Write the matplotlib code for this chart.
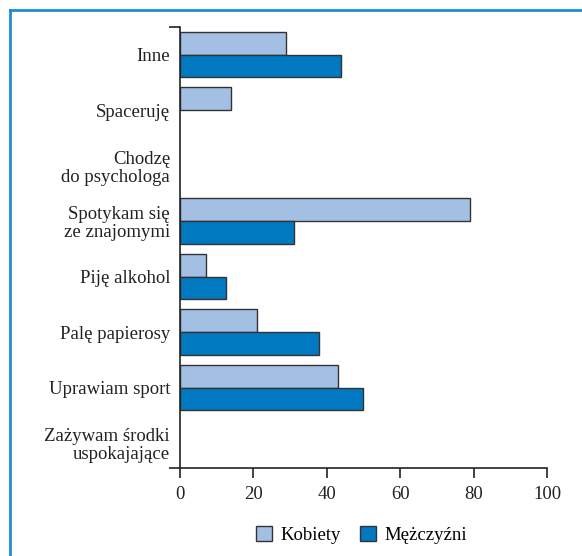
import matplotlib
matplotlib.use("Agg")
import matplotlib.pyplot as plt
from matplotlib.lines import Line2D
from matplotlib.patches import Patch
import numpy as np

categories = ["Inne", "Spaceruję", "Chodzę\ndo psychologa", "Spotykam się\nze znajomymi",
              "Piję alkohol", "Palę papierosy", "Uprawiam sport",
              "Zażywam środki\nuspokajające"]
kobiety = [29, 14, 0, 79, 7, 21, 43, 0]
mezczyzni = [44, 0, 0, 31, 12.5, 38, 50, 0]
series_names = ["Kobiety", "Mężczyźni"]

light = "#a3bfe3"
dark = "#0079c1"
edge = "#333333"
frame_blue = "#1b8fd2"

plt.rcParams["font.family"] = ["Liberation Serif", "DejaVu Serif"]

fig = plt.figure(figsize=(5.82, 5.56), dpi=100)
ax = fig.add_axes([0.309, 0.1583, 0.631, 0.7931])

y = np.arange(len(categories))
h = 0.41
b1 = ax.barh(y - h / 2, kobiety, height=h, color=light, edgecolor=edge, linewidth=1)
b2 = ax.barh(y + h / 2, mezczyzni, height=h, color=dark, edgecolor=edge, linewidth=1)
# empty answers have no bar at all
for p in list(b1) + list(b2):
    if p.get_width() == 0:
        p.set_visible(False)

ax.set_xlim(0, 100)
ax.set_ylim(7.45, -0.5)

ax.spines["top"].set_visible(False)
ax.spines["right"].set_visible(False)
for s in ["left", "bottom"]:
    ax.spines[s].set_color("#222222")
    ax.spines[s].set_linewidth(1.2)

ax.set_xticks([0, 20, 40, 60, 80, 100])
ax.tick_params(axis="x", direction="out", length=7, width=1.2, color="#222222",
               labelsize=13.5, pad=6, labelcolor="#222222")

# end ticks on the y axis, labels as minor ticks
ax.set_yticks([-0.5, 7.45])
ax.set_yticklabels([])
ax.tick_params(axis="y", which="major", direction="out", length=8, width=1.2, color="#222222")
ax.set_yticks(y, minor=True)
ax.set_yticklabels(categories, minor=True, fontsize=13.5, color="#222222",
                   linespacing=1.1)
ax.tick_params(axis="y", which="minor", length=0, pad=7)

handles = [Patch(facecolor=light, edgecolor=edge, label=series_names[0]),
           Patch(facecolor=dark, edgecolor=edge, label=series_names[1])]
fig.legend(handles=handles, loc="center", bbox_to_anchor=(0.621, 0.038), ncol=2,
           frameon=False, fontsize=13.5, handlelength=0.85, handleheight=0.85,
           handletextpad=0.45, columnspacing=1.0)

# blue frame at top and left
fig.add_artist(Line2D([10 / 582, 1], [1 - 10 / 556, 1 - 10 / 556],
                      transform=fig.transFigure, color=frame_blue, linewidth=2))
fig.add_artist(Line2D([10 / 582, 10 / 582], [0, 1 - 10 / 556],
                      transform=fig.transFigure, color=frame_blue, linewidth=2))

fig.savefig("out.png", dpi=100)
